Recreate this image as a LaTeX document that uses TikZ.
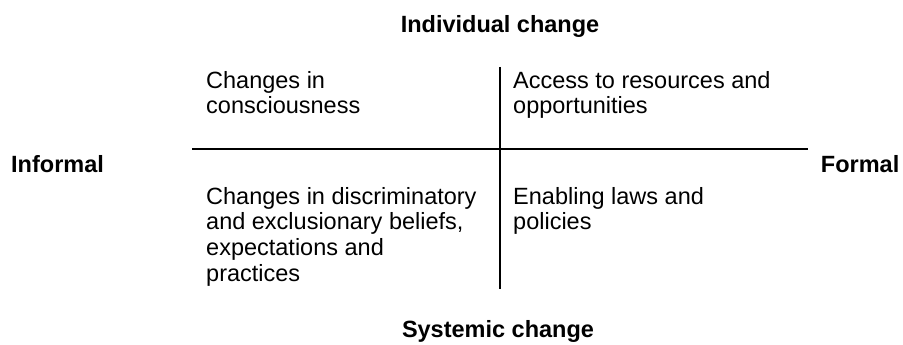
\documentclass[tikz,border=0pt]{standalone}
\usepackage{fontspec}
\setmainfont{Liberation Sans}

\begin{document}
\begin{tikzpicture}[x=1pt,y=-1pt,
	cell/.style={anchor=north west, inner sep=0pt, align=left, font=\fontsize{23.5}{25.7}\selectfont},
	pole/.style={inner sep=0pt, font=\fontsize{23.5}{26}\selectfont\bfseries},
	axis/.style={line width=2pt}]
			\useasboundingbox (0,0) rectangle (903,345);
			\coordinate (informal end) at (192,149);
			\coordinate (formal end) at (808,149);
			\coordinate (individual end) at (500,67);
			\coordinate (systemic end) at (500,289);
			\draw[axis] (informal end) -- (formal end);
			\draw[axis] (individual end) -- (systemic end);
			\node[pole, anchor=base] (individual) at (500,32.7) {Individual change};
			\node[pole, anchor=base] (systemic) at (498,337) {Systemic change};
			\node[pole, anchor=base west] (informal) at (11,172) {Informal};
			\node[pole, anchor=base east] (formal) at (899.5,172) {Formal};
			\node[cell] (consciousness) at (206,71) {Changes in\\consciousness};
			\node[cell] (resources) at (513,71) {Access to resources and\\opportunities};
			\node[cell] (beliefs) at (206,187) {Changes in discriminatory\\and exclusionary beliefs,\\expectations and\\practices};
			\node[cell] (laws) at (513,187) {Enabling laws and\\policies};
\end{tikzpicture}
\end{document}
